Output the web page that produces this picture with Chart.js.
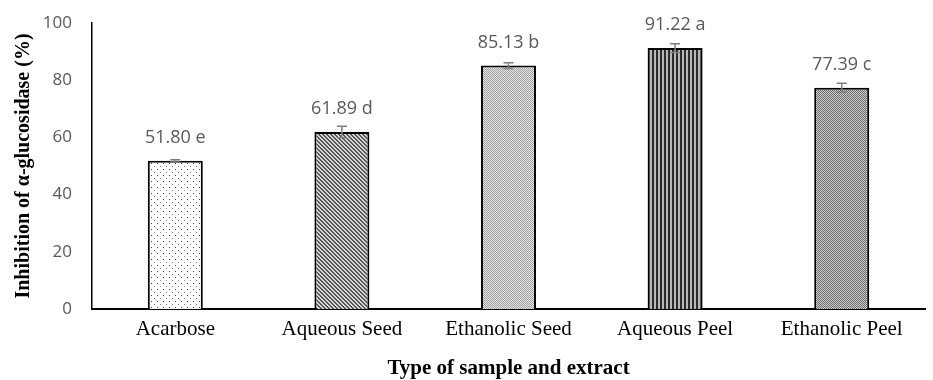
<!DOCTYPE html>
<html><head><meta charset="utf-8">
<script src="https://cdn.jsdelivr.net/npm/chart.js@4.4.1/dist/chart.umd.min.js"></script>
<style>html,body{margin:0;padding:0;background:#fff}#wrap{width:933px;height:380px;position:relative}</style>
</head><body><div id="wrap"><canvas id="c" width="933" height="380"></canvas></div>
<script>
const categories = ["Acarbose","Aqueous Seed","Ethanolic Seed","Aqueous Peel","Ethanolic Peel"];
const values = [51.80, 61.89, 85.13, 91.22, 77.39];
const errors = [0.4, 2.0, 1.0, 1.5, 1.5];
const letters = ["e","d","b","a","c"];
const yTicks = [0,20,40,60,80,100];

function mk(w,h,draw){const c=document.createElement('canvas');c.width=w;c.height=h;const g=c.getContext('2d');draw(g);return g.createPattern(c,'repeat');}
const patterns=[
 mk(6,6,g=>{g.fillStyle='#fff';g.fillRect(0,0,6,6);g.fillStyle='#444';g.fillRect(1,1,1,1);g.fillStyle='#888';g.fillRect(4,4,1,1);}),
 mk(4,4,g=>{g.fillStyle='#d8d8d8';g.fillRect(0,0,4,4);g.fillStyle='#555';for(let i=0;i<4;i++){g.fillRect(i,i,1,1);g.fillRect((i+1)%4,i,1,1);}}),
 mk(2,2,g=>{g.fillStyle='#e6e6e6';g.fillRect(0,0,2,2);g.fillStyle='#a0a0a0';g.fillRect(0,0,1,1);g.fillRect(1,1,1,1);}),
 mk(4,1,g=>{g.fillStyle='#b8b8b8';g.fillRect(0,0,4,1);g.fillStyle='#2a2a2a';g.fillRect(0,0,2,1);}),
 mk(2,2,g=>{g.fillStyle='#d0d0d0';g.fillRect(0,0,2,2);g.fillStyle='#6a6a6a';g.fillRect(0,0,1,1);g.fillRect(1,1,1,1);})
];

const overlay={id:'overlay',afterDatasetsDraw(chart){
 const g=chart.ctx, y=chart.scales.y, meta=chart.getDatasetMeta(0);
 g.save();
 meta.data.forEach((bar,i)=>{
  const x=bar.x, yt=y.getPixelForValue(values[i]+errors[i]), yb=y.getPixelForValue(values[i]-errors[i]);
  g.strokeStyle='#7f7f7f';g.lineWidth=1.5;
  g.beginPath();g.moveTo(x,yt);g.lineTo(x,yb);g.moveTo(x-5,yt);g.lineTo(x+5,yt);g.moveTo(x-5,yb);g.lineTo(x+5,yb);g.stroke();
  g.fillStyle='#595959';g.font='18px "Open Sans", Lato, sans-serif';g.textAlign='center';g.textBaseline='middle';
  g.fillText(values[i].toFixed(2)+' '+letters[i], x, y.getPixelForValue(values[i])-23);
 });
 g.restore();
}};

new Chart(document.getElementById('c'),{
 type:'bar',
 data:{labels:categories,datasets:[{data:values,backgroundColor:patterns,borderColor:'#000',borderWidth:2,borderSkipped:'bottom',barPercentage:0.33,categoryPercentage:1}]},
 options:{responsive:false,animation:false,devicePixelRatio:1,
  layout:{padding:{top:23,right:8,left:0,bottom:0}},
  plugins:{legend:{display:false},tooltip:{enabled:false}},
  scales:{
   y:{min:0,max:100,afterBuildTicks(s){s.ticks=yTicks.map(v=>({value:v}));},
      grid:{display:false,drawTicks:false},border:{display:true,color:'#000',width:1.5},
      ticks:{color:'#595959',padding:20,font:{family:'"Open Sans", Lato, sans-serif',size:17}},
      title:{display:true,text:'Inhibition of α-glucosidase (%)',color:'#000',font:{family:'"Liberation Serif", "Times New Roman", serif',size:20,weight:'bold'},padding:{top:12,bottom:0}},
      afterFit(s){s.width=92;s.paddingTop=0;s.paddingBottom=0;}},
   x:{grid:{display:false,drawTicks:false},border:{display:true,color:'#000',width:2},
      ticks:{color:'#000',padding:8,font:{family:'"Liberation Serif", "Times New Roman", serif',size:21}},
      title:{display:true,text:'Type of sample and extract',color:'#000',font:{family:'"Liberation Serif", "Times New Roman", serif',size:21,weight:'bold'},padding:{top:24,bottom:-1}},
      afterFit(s){s.height=71;}}
  }},
 plugins:[overlay]
});
</script></body></html>
